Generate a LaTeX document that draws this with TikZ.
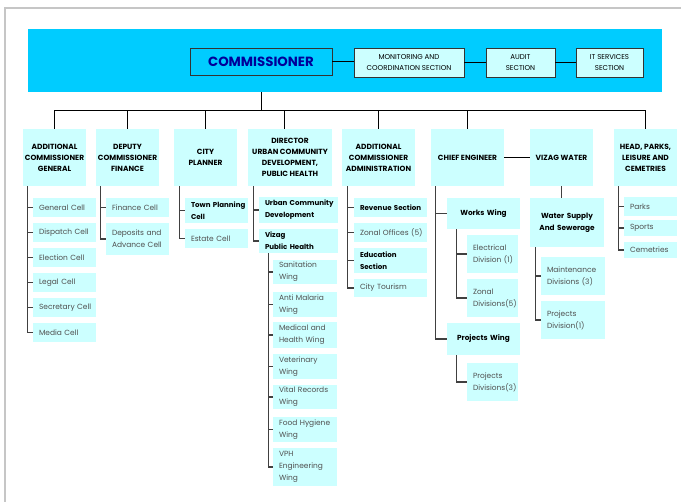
\documentclass[tikz,border=0pt]{standalone}
\usepackage{fontspec}
\setmainfont{Poppins}
\definecolor{bandcyan}{HTML}{00CCFF}
\definecolor{boxcyan}{HTML}{CCFFFF}
\definecolor{commblue}{HTML}{000099}
\definecolor{subgray}{HTML}{505050}
\hyphenpenalty=10000
\exhyphenpenalty=10000

% box from its corners (x1,y1)-(x2,y2), in pixels
\newcommand{\obox}[7]{%
  \pgfmathsetmacro{\bw}{(#5-#3)*0.75}%
  \pgfmathsetmacro{\bh}{(#6-#4)*0.75}%
  \node[minimum width=\bw pt, minimum height=\bh pt, text width=\bw pt, inner xsep=0pt, inner ysep=0pt, #1]
    (#2) at ({(#3+#5)/2},{(#4+#6)/2}) {#7};}

\tikzset{
  head/.style={fill=boxcyan, text width={}, align=center, text=black,
    font=\bfseries\fontsize{5.6}{8.25}\selectfont},
  cell/.style={fill=boxcyan, align=left, text=subgray, font=\fontsize{5.6}{9}\selectfont,
    execute at begin node={\leftskip=4.5pt}},
  boldcell/.style={cell, text=black, font=\bfseries\fontsize{5.3}{9}\selectfont},
  wing/.style={fill=boxcyan, align=center, text=black, font=\bfseries\fontsize{5.5}{9}\selectfont},
  topbox/.style={fill=boxcyan, draw=black!80, line width=0.6pt, text width={},
    align=center, font=\fontsize{5.3}{8}\selectfont},
  conn/.style={draw=black, line width=0.6pt},
  trunk/.style={draw=black!75, line width=0.9pt}
}

\begin{document}
\begin{tikzpicture}[x=0.75pt,y=-0.75pt,line cap=rect]
		\useasboundingbox (0,0) rectangle (681,501);
		% frame
		\draw[gray!45, line width=1.2pt] (5,501) -- (5,8) -- (681,8);

		% band with commissioner and sections
		\obox{fill=bandcyan, text width={}}{band}{28}{29}{662}{92}{}
		\obox{fill=bandcyan, draw=black!80, line width=0.6pt, text width={}, align=center,
			text=commblue, font=\bfseries\fontsize{10}{12}\selectfont}{comm}{190}{48}{332}{75}{COMMISSIONER}
		\obox{topbox}{mon}{354}{48}{464}{77}{MONITORING AND\\COORDINATION SECTION}
		\obox{topbox}{aud}{486}{48}{555}{77}{AUDIT\\SECTION}
		\obox{topbox}{its}{576}{48}{643}{77}{IT SERVICES\\SECTION}
		\draw[conn] (comm.east) -- (mon.west |- comm.east);
		\draw[conn] (mon.east) -- (aud.west);
		\draw[conn] (aud.east) -- (its.west);

		% heads
		\obox{head}{acg}{23}{129}{86}{186}{ADDITIONAL\\COMMISSIONER\\GENERAL}
		\obox{head}{dcf}{96}{129}{159}{186}{DEPUTY\\COMMISSIONER\\FINANCE}
		\obox{head}{cp}{174}{129}{237}{186}{CITY\\PLANNER}
		\obox{head}{dir}{248}{129}{332}{186}{DIRECTOR\\URBAN COMMUNITY\\DEVELOPMENT,\\PUBLIC HEALTH}
		\obox{head}{aca}{342}{129}{415}{186}{ADDITIONAL\\COMMISSIONER\\ADMINISTRATION}
		\obox{head}{ce}{431}{129}{504}{186}{CHIEF ENGINEER}
		\obox{head}{vw}{530}{129}{593}{186}{VIZAG WATER}
		\obox{head}{hp}{614}{129}{677}{186}{HEAD, PARKS,\\LEISURE AND\\CEMETRIES}

		\coordinate (bus) at (260,110);
		\draw[conn] (comm |- band.south) -- (comm |- bus);
		\draw[conn] (acg.north |- bus) -- (hp.north |- bus);
		\foreach \n in {acg,dcf,cp,aca,ce,hp}
			\draw[conn] (\n.north) -- (\n.north |- bus);
		\draw[conn] ([xshift=-4pt]dir.north) -- ([xshift=-4pt]dir.north |- bus);
		\draw[conn] (ce) -- (vw);

		% additional commissioner general
		\obox{cell}{gen}{33}{198}{96}{217}{General~Cell}
		\obox{cell}{disp}{33}{223}{96}{242}{Dispatch~Cell}
		\obox{cell}{elec}{33}{248}{96}{267}{Election~Cell}
		\obox{cell}{legal}{33}{273}{96}{292}{Legal~Cell}
		\obox{cell}{sec}{33}{298}{96}{317}{Secretary~Cell}
		\obox{cell}{media}{33}{323}{96}{342}{Media~Cell}
		\coordinate (acgT) at ([xshift=3.75pt]acg.south west);
		\draw[trunk] (acgT) |- (media.west);
		\foreach \c in {gen,disp,elec,legal,sec}
			\draw[trunk] (acgT |- \c.west) -- (\c.west);

		% deputy commissioner finance
		\obox{cell}{fin}{106}{198}{169}{217}{Finance~Cell}
		\obox{cell}{dep}{106}{223}{169}{255}{Deposits~and\\Advance~Cell}
		\coordinate (dcfT) at ([xshift=3.75pt]dcf.south west);
		\draw[trunk] (dcfT) |- (dep.west);
		\draw[trunk] (dcfT |- fin.west) -- (fin.west);

		% city planner
		\obox{boldcell}{tpc}{185}{198}{248}{223}{Town~Planning\\Cell}
		\obox{cell}{est}{185}{229}{248}{248}{Estate~Cell}
		\coordinate (cpT) at ([xshift=4.5pt]cp.south west);
		\draw[trunk] (cpT) |- (est.west);
		\draw[trunk] (cpT |- tpc.west) -- (tpc.west);

		% director
		\obox{boldcell}{ucd}{259}{197}{338}{223}{Urban~Community\\Development}
		\obox{boldcell}{vph}{259}{229}{338}{253}{Vizag\\Public~Health}
		\coordinate (dirT) at ([xshift=4.5pt]dir.south west);
		\draw[trunk] (dirT) |- (vph.west);
		\draw[trunk] (dirT |- ucd.west) -- (ucd.west);

		\obox{cell}{san}{273}{260}{337}{284}{Sanitation\\Wing}
		\obox{cell}{mal}{273}{292}{337}{317}{Anti~Malaria\\Wing}
		\obox{cell}{med}{273}{322}{337}{348}{Medical~and\\Health~Wing}
		\obox{cell}{vet}{273}{354}{337}{379}{Veterinary\\Wing}
		\obox{cell}{vit}{273}{385}{337}{409}{Vital~Records\\Wing}
		\obox{cell}{food}{273}{417}{337}{442}{Food~Hygiene\\Wing}
		\obox{cell}{veng}{273}{448}{337}{486}{VPH\\Engineering\\Wing}
		\coordinate (vphT) at ([xshift=7.5pt]vph.south west);
		\draw[trunk] (vphT) |- (veng.west);
		\foreach \c in {san,mal,med,vet,vit,food}
			\draw[trunk] (vphT |- \c.west) -- (\c.west);

		% additional commissioner administration
		\obox{boldcell}{rev}{354}{198}{427}{217}{Revenue~Section}
		\obox{cell}{zon}{354}{223}{427}{242}{Zonal~Offices~(5)}
		\obox{boldcell}{edu}{354}{248}{427}{273}{Education\\Section}
		\obox{cell}{tour}{354}{279}{427}{297}{City~Tourism}
		\coordinate (acaT) at ([xshift=4.5pt]aca.south west);
		\draw[trunk] (acaT) |- (tour.west);
		\foreach \c in {rev,zon,edu}
			\draw[trunk] (acaT |- \c.west) -- (\c.west);

		% chief engineer
		\obox{wing}{ww}{447}{198}{520}{229}{Works Wing}
		\obox{cell}{eldiv}{467}{235}{518}{273}{Electrical\\Division~(1)}
		\obox{cell}{zdiv}{467}{279}{518}{317}{Zonal\\Divisions(5)}
		\obox{wing}{pw}{447}{323}{520}{355}{Projects Wing}
		\obox{cell}{pdiv}{467}{363}{518}{401}{Projects\\Divisions(3)}
		\coordinate (ceT) at ([xshift=3.75pt]ce.south west);
		\draw[trunk] (ceT) |- (pw.west);
		\draw[trunk] (ceT |- ww.west) -- (ww.west);
		\coordinate (wwT) at ([xshift=7.5pt]ww.south west);
		\draw[trunk] (wwT) |- (zdiv.west);
		\draw[trunk] (wwT |- eldiv.west) -- (eldiv.west);
		\coordinate (pwT) at ([xshift=7.5pt]pw.south west);
		\draw[trunk] (pwT) |- (pdiv.west);

		% vizag water
		\obox{wing}{wss}{530}{198}{604}{247}{Water Supply\\And Sewerage}
		\obox{cell}{mdiv}{541}{257}{605}{295}{Maintenance\\Divisions~(3)}
		\obox{cell}{prdiv}{541}{301}{605}{339}{Projects\\Division(1)}
		\draw[trunk] (vw.south) -- (vw.south |- wss.north);
		\coordinate (wssT) at ([xshift=4.5pt]wss.south west);
		\draw[trunk] (wssT) |- (prdiv.west);
		\draw[trunk] (wssT |- mdiv.west) -- (mdiv.west);

		% head parks
		\obox{cell}{parks}{624}{197}{677}{216}{Parks}
		\obox{cell}{sports}{624}{220}{677}{236}{Sports}
		\obox{cell}{cem}{624}{242}{677}{258}{Cemetries}
		\coordinate (hpT) at ([xshift=3.75pt]hp.south west);
		\draw[trunk] (hpT) |- (cem.west);
		\foreach \c in {parks,sports}
			\draw[trunk] (hpT |- \c.west) -- (\c.west);
	\end{tikzpicture}
\end{document}
